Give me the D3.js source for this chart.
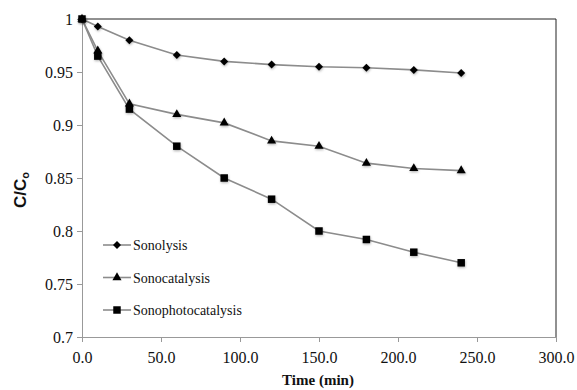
<!DOCTYPE html>
<html>
<head>
<meta charset="utf-8">
<script src="https://cdn.jsdelivr.net/npm/d3@7"></script>
<style>
  body { margin: 0; background: #fff; }
  svg text { font-family: "Liberation Serif", "DejaVu Serif", serif; fill: #111; }
</style>
</head>
<body>
<svg id="chart" width="577" height="390"></svg>
<script>
// time points (min)
const times = [0, 10, 30, 60, 90, 120, 150, 180, 210, 240];
const sonolysis = [1, 0.993, 0.980, 0.966, 0.960, 0.957, 0.955, 0.954, 0.952, 0.949];
const sonocatalysis = [1, 0.970, 0.920, 0.910, 0.902, 0.885, 0.880, 0.864, 0.859, 0.857];
const sonophotocatalysis = [1, 0.965, 0.915, 0.880, 0.850, 0.830, 0.800, 0.792, 0.780, 0.770];
const xTicks = [0, 50, 100, 150, 200, 250, 300];
const yTicks = [0.7, 0.75, 0.8, 0.85, 0.9, 0.95, 1];
const seriesNames = ['Sonolysis', 'Sonocatalysis', 'Sonophotocatalysis'];

const margin = { top: 19, right: 21, bottom: 53, left: 82 };
const width = 577, height = 390;
const svg = d3.select('#chart');

const x = d3.scaleLinear().domain([0, 300]).range([margin.left, width - margin.right]);
const y = d3.scaleLinear().domain([0.7, 1]).range([height - margin.bottom, margin.top]);

// plot frame: top and right dark lines
svg.append('line')
  .attr('x1', x(0)).attr('x2', x(300)).attr('y1', y(1)).attr('y2', y(1))
  .attr('stroke', '#222').attr('stroke-width', 1);
svg.append('line')
  .attr('x1', x(300)).attr('x2', x(300)).attr('y1', y(1)).attr('y2', y(0.7))
  .attr('stroke', '#222').attr('stroke-width', 1);

// x axis
const xAxis = svg.append('g')
  .attr('transform', `translate(0,${y(0.7)})`)
  .call(d3.axisBottom(x).tickValues(xTicks).tickSize(5).tickSizeOuter(0).tickFormat(d3.format('.1f')));
xAxis.select('.domain').attr('stroke', '#999');
xAxis.selectAll('.tick line').attr('stroke', '#999');
xAxis.selectAll('.tick text').attr('font-size', 16).attr('y', 26).attr('dy', 0).attr('fill', '#222')
  .style('font-family', '"Liberation Serif", serif');

// y axis
const yAxis = svg.append('g')
  .attr('transform', `translate(${x(0)},0)`)
  .call(d3.axisLeft(y).tickValues(yTicks).tickSize(5).tickSizeOuter(0).tickFormat(d => String(+d.toFixed(2))));
yAxis.select('.domain').attr('stroke', '#999');
yAxis.selectAll('.tick line').attr('stroke', '#999');
yAxis.selectAll('.tick text').attr('font-size', 16).attr('x', -9).attr('fill', '#222')
  .style('font-family', '"Liberation Serif", serif');

// axis titles
svg.append('text')
  .attr('x', 318).attr('y', 385)
  .attr('text-anchor', 'middle')
  .attr('font-size', 15).attr('font-weight', 'bold')
  .text('Time (min)');

const yt = svg.append('text')
  .attr('transform', 'translate(26,190) rotate(-90)')
  .attr('text-anchor', 'middle')
  .attr('font-size', 17).attr('font-weight', 'bold')
  .style('font-family', '"Liberation Sans", Arial, sans-serif');
yt.append('tspan').text('C/C');
yt.append('tspan').attr('font-size', 11).attr('dy', 3).text('o');

// diamond drawn as a square turned 45 degrees
const diamond = {
  draw(ctx, size) {
    const r = Math.sqrt(size) / 2;
    ctx.moveTo(0, -r); ctx.lineTo(r, 0); ctx.lineTo(0, r); ctx.lineTo(-r, 0); ctx.closePath();
  }
};

const series = [
  { name: seriesNames[0], values: sonolysis, symbol: diamond, size: 64 },
  { name: seriesNames[1], values: sonocatalysis, symbol: d3.symbolTriangle, size: 36 },
  { name: seriesNames[2], values: sonophotocatalysis, symbol: d3.symbolSquare, size: 56 }
];

const line = d3.line().x(d => x(d[0])).y(d => y(d[1]));

// shadow filter for markers
const defs = svg.append('defs');
const f = defs.append('filter').attr('id', 'shadow').attr('x', '-50%').attr('y', '-50%').attr('width', '200%').attr('height', '200%');
f.append('feDropShadow').attr('dx', 0.5).attr('dy', 1.2).attr('stdDeviation', 0.8).attr('flood-color', '#000').attr('flood-opacity', 0.3);

series.forEach(s => {
  const pts = times.map((t, i) => [t, s.values[i]]);
  svg.append('path')
    .attr('d', line(pts))
    .attr('fill', 'none')
    .attr('stroke', '#8c8c8c')
    .attr('stroke-width', 1.6);
});

series.forEach(s => {
  const pts = times.map((t, i) => [t, s.values[i]]);
  svg.append('g').selectAll('path')
    .data(pts)
    .join('path')
    .attr('transform', d => `translate(${x(d[0])},${y(d[1])})`)
    .attr('d', d3.symbol().type(s.symbol).size(s.size))
    .attr('fill', '#000')
    .attr('filter', 'url(#shadow)');
});

// legend
const legend = svg.append('g').attr('transform', 'translate(103,245)');
series.forEach((s, i) => {
  const g = legend.append('g').attr('transform', `translate(0,${i * 32.5})`);
  g.append('line').attr('x1', 0).attr('x2', 28).attr('y1', 0).attr('y2', 0)
    .attr('stroke', '#8c8c8c').attr('stroke-width', 1.6);
  g.append('path').attr('transform', 'translate(14,0)')
    .attr('d', d3.symbol().type(s.symbol).size(s.size))
    .attr('fill', '#000');
  g.append('text').attr('x', 30).attr('y', 5).attr('font-size', 14).text(s.name);
});
</script>
</body>
</html>
